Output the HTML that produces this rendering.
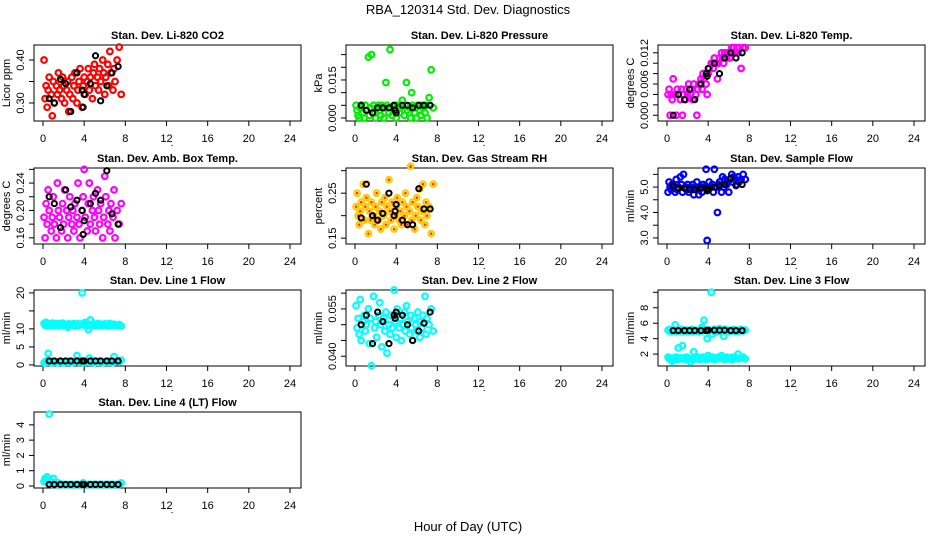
<!DOCTYPE html>
<html><head><meta charset="utf-8"><style>
body{margin:0;background:#fff}
svg{display:block;font-family:"Liberation Sans",Arial,sans-serif}
</style></head><body>
<svg id="c" width="936" height="540" viewBox="0 0 936 540">
<text x="468" y="14" text-anchor="middle" font-size="13">RBA_120314  Std. Dev. Diagnostics</text>
<text x="468" y="531" text-anchor="middle" font-size="13">Hour of Day (UTC)</text>
</svg>
<script>
const xTicks=[0,4,8,12,16,20,24];
const hours=[0.1,0.2,0.3,0.4,0.5,0.6,0.8,0.9,1.0,1.1,1.3,1.4,1.5,1.6,1.8,1.9,2.0,2.1,2.3,2.4,2.5,2.6,2.8,2.9,3.0,3.1,3.3,3.4,3.5,3.6,3.8,3.9,4.0,4.1,4.3,4.4,4.5,4.6,4.8,4.9,5.0,5.1,5.3,5.4,5.5,5.6,5.8,5.9,6.0,6.1,6.3,6.4,6.5,6.6,6.8,6.9,7.0,7.2,7.4,7.6];
const blackHours=[0.6,1.1,1.7,2.2,2.7,3.3,3.8,4.0,4.6,5.1,5.6,6.2,6.7,7.3,3.9];

const co2Vals=[0.40,0.31,0.34,0.29,0.33,0.36,0.32,0.27,0.35,0.30,0.34,0.32,0.37,0.33,0.31,0.36,0.34,0.30,0.33,0.35,0.28,0.32,0.36,0.31,0.34,0.37,0.30,0.33,0.35,0.38,0.29,0.34,0.36,0.32,0.35,0.38,0.33,0.36,0.31,0.37,0.39,0.34,0.36,0.33,0.38,0.35,0.40,0.37,0.32,0.36,0.39,0.34,0.42,0.37,0.33,0.38,0.35,0.40,0.43,0.32];
const co2Black=[0.31,0.30,0.355,0.345,0.28,0.37,0.33,0.32,0.345,0.41,0.305,0.34,0.37,0.385,0.29];
const presVals=[0.005,0.003,0.001,0.000,0.004,0.005,0.002,0.000,0.005,0.003,0.024,0.001,0.004,0.025,0.005,0.002,0.000,0.004,0.005,0.003,0.001,0.005,0.000,0.004,0.014,0.005,0.002,0.027,0.004,0.001,0.005,0.003,0.000,0.005,0.002,0.004,0.005,0.007,0.001,0.005,0.014,0.003,0.004,0.000,0.010,0.005,0.002,0.004,0.000,0.005,0.003,0.001,0.005,0.004,0.002,0.005,0.000,0.008,0.019,0.004];
const presBlack=[0.005,0.003,0.002,0.004,0.004,0.004,0.005,0.002,0.005,0.005,0.004,0.005,0.005,0.005,0.003];
const tempVals=[0.004,0.005,0.000,0.004,0.003,0.007,0.004,0.000,0.005,0.004,0.003,0.005,0.000,0.004,0.003,0.005,0.004,0.006,0.004,0.005,0.003,0.006,0.004,0.000,0.005,0.006,0.007,0.005,0.008,0.007,0.006,0.004,0.008,0.009,0.010,0.010,0.009,0.011,0.010,0.007,0.010,0.011,0.012,0.011,0.010,0.012,0.011,0.012,0.012,0.011,0.013,0.012,0.013,0.012,0.013,0.012,0.013,0.009,0.013,0.013];
const tempBlack=[0.000,0.004,0.003,0.005,0.003,0.006,0.008,0.009,0.010,0.008,0.011,0.012,0.011,0.012,0.0075];
const ambVals=[0.19,0.16,0.21,0.18,0.23,0.20,0.17,0.19,0.22,0.18,0.16,0.24,0.20,0.19,0.17,0.21,0.18,0.23,0.20,0.16,0.19,0.22,0.18,0.20,0.17,0.21,0.19,0.24,0.18,0.16,0.20,0.22,0.26,0.19,0.17,0.21,0.24,0.18,0.20,0.22,0.19,0.17,0.23,0.20,0.18,0.21,0.16,0.19,0.25,0.22,0.18,0.20,0.17,0.21,0.19,0.23,0.16,0.20,0.18,0.21];
const ambBlack=[0.22,0.21,0.175,0.23,0.205,0.215,0.20,0.185,0.21,0.225,0.215,0.258,0.195,0.18,0.165];
const rhVals=[0.22,0.25,0.20,0.18,0.21,0.23,0.27,0.19,0.22,0.24,0.16,0.21,0.19,0.23,0.20,0.18,0.22,0.25,0.19,0.21,0.17,0.23,0.20,0.24,0.18,0.22,0.28,0.21,0.19,0.23,0.17,0.20,0.22,0.24,0.19,0.21,0.18,0.23,0.20,0.25,0.22,0.18,0.21,0.31,0.19,0.23,0.17,0.20,0.24,0.22,0.26,0.19,0.21,0.27,0.18,0.23,0.20,0.22,0.16,0.27];
const rhBlack=[0.195,0.27,0.20,0.19,0.205,0.25,0.20,0.225,0.19,0.18,0.18,0.26,0.215,0.215,0.21];
const flowVals=[4.8,5.2,5.0,4.9,5.1,5.0,4.8,5.3,4.9,5.0,5.4,5.1,4.8,5.5,5.0,4.9,5.1,4.8,5.0,4.9,5.1,4.7,5.0,5.2,4.9,4.7,5.0,4.8,5.1,5.0,5.7,2.9,4.9,5.2,5.0,5.1,4.8,5.7,5.0,4.0,5.1,5.2,4.8,5.4,5.0,5.3,5.1,5.2,4.8,5.3,5.5,5.2,5.4,5.3,5.1,5.4,5.2,5.3,5.5,5.3];
const flowBlack=[5.05,4.95,4.95,4.9,4.9,4.95,4.95,4.9,5.0,5.05,5.1,5.35,5.05,5.1,4.85];
const line1High=[11.5,11.0,11.8,11.2,10.8,11.4,11.0,11.6,11.2,11.0,11.5,11.3,10.9,11.4,11.1,11.6,11.0,11.3,11.2,10.5,11.4,11.0,11.3,11.1,11.5,10.8,11.2,11.4,11.0,11.3,20.0,11.5,11.1,11.8,10.9,9.8,11.3,12.5,11.0,11.4,11.2,11.0,11.5,11.1,10.9,11.3,11.2,11.0,11.4,11.1,11.3,10.8,11.5,11.2,11.0,11.3,11.1,10.9,11.2,10.8];
const line1Low=[0.6,0.9,0.7,1.2,3.2,0.8,0.6,1.0,0.7,0.9,0.8,0.6,1.0,0.7,0.8,0.9,0.6,0.8,1.0,0.7,0.9,0.8,0.6,0.9,0.7,0.8,2.6,0.9,0.7,1.0,0.8,0.6,0.9,0.7,1.0,0.8,1.9,0.7,0.9,0.8,0.6,0.9,0.8,0.7,1.0,0.8,0.6,0.9,0.7,0.8,0.9,0.7,1.0,0.8,0.6,2.3,0.9,1.2,0.8,1.3];
const line1Black=[1.1,1.1,1.1,1.1,1.1,1.1,1.1,1.1,1.1,1.1,1.1,1.1,1.1,1.1,1.1];
const line2Vals=[0.056,0.049,0.052,0.047,0.058,0.045,0.051,0.053,0.048,0.050,0.055,0.044,0.052,0.037,0.059,0.049,0.051,0.046,0.053,0.057,0.050,0.043,0.052,0.048,0.054,0.041,0.050,0.047,0.053,0.049,0.061,0.051,0.046,0.055,0.049,0.052,0.045,0.050,0.054,0.048,0.056,0.051,0.047,0.053,0.049,0.045,0.052,0.050,0.048,0.054,0.046,0.051,0.049,0.053,0.059,0.047,0.052,0.050,0.055,0.048];
const line2Black=[0.050,0.053,0.044,0.054,0.051,0.044,0.053,0.054,0.053,0.050,0.045,0.048,0.0505,0.054,0.052];
const line3High=[5.1,5.0,5.2,4.9,5.0,5.1,5.8,4.9,5.0,5.1,5.0,5.2,4.9,5.0,5.1,5.0,4.9,5.1,5.0,5.2,4.9,5.0,5.1,5.0,5.0,4.9,5.2,5.5,5.0,6.4,5.1,4.0,5.0,5.1,10.0,4.6,5.0,5.2,5.1,4.9,5.0,5.3,5.1,5.0,4.3,5.2,5.0,5.1,4.9,5.0,5.1,5.0,5.2,5.0,4.9,5.1,5.0,5.2,5.0,5.1];
const line3Low=[1.6,1.4,1.5,1.3,1.1,1.5,1.4,1.6,1.3,2.8,1.5,1.4,3.1,1.5,1.3,1.6,1.4,1.5,1.0,1.4,1.3,2.3,1.5,1.4,1.6,1.3,1.5,1.4,1.6,1.5,1.3,1.5,1.8,1.4,1.5,1.6,1.4,1.3,1.5,1.4,1.6,1.5,1.8,1.4,1.5,1.3,1.6,1.4,1.5,1.4,1.3,1.6,1.5,1.4,1.5,2.0,1.4,1.5,1.6,1.4];
const line3Black=[5.05,5.05,5.05,5.05,5.05,5.05,5.05,5.1,5.1,5.1,5.1,5.05,5.05,5.05,5.1];
const line4Vals=[0.3,0.5,0.4,0.6,0.2,4.7,0.3,0.1,0.5,0.2,0.1,0.1,0.2,0.1,0.1,0.1,0.1,0.1,0.1,0.1,0.1,0.1,0.1,0.1,0.1,0.1,0.1,0.1,0.1,0.1,0.1,0.2,0.1,0.1,0.1,0.1,0.1,0.1,0.1,0.1,0.1,0.1,0.1,0.1,0.1,0.1,0.1,0.1,0.1,0.1,0.1,0.1,0.1,0.1,0.1,0.1,0.1,0.1,0.1,0.2];
const line4Black=[0.1,0.1,0.1,0.1,0.1,0.1,0.1,0.1,0.1,0.1,0.1,0.1,0.1,0.1,0.1];

const NS='http://www.w3.org/2000/svg';
const svg=document.getElementById('c');
function mk(tag,attrs,parent){const e=document.createElementNS(NS,tag);for(const k in attrs)e.setAttribute(k,attrs[k]);(parent||svg).appendChild(e);return e;}

const panels=[
 {t:'Stan. Dev. Li-820 CO2',yl:'Licor ppm',col:0,row:0,ymin:0.258,ymax:0.435,ticks:[0.30,0.35,0.40],labels:['0.30','','0.40'],series:[co2Vals],black:co2Black,color:'#ff0000',name:'co2'},
 {t:'Stan. Dev. Li-820 Pressure',yl:'kPa',col:1,row:0,ymin:-0.0012,ymax:0.0288,ticks:[0,0.005,0.010,0.015,0.020,0.025],labels:['0.000','','','0.015','',''],series:[presVals],black:presBlack,color:'#00ee00',name:'pressure'},
 {t:'Stan. Dev. Li-820 Temp.',yl:'degrees C',col:2,row:0,ymin:-0.0011,ymax:0.0135,ticks:[0,0.002,0.004,0.006,0.008,0.010,0.012],labels:['0.000','','','0.006','','','0.012'],series:[tempVals],black:tempBlack,color:'#ff00ff',name:'temp'},
 {t:'Stan. Dev. Amb. Box Temp.',yl:'degrees C',col:0,row:1,ymin:0.151,ymax:0.262,ticks:[0.16,0.18,0.20,0.22,0.24,0.26],labels:['0.16','','0.20','','0.24',''],series:[ambVals],black:ambBlack,color:'#ff00ff',name:'amb-temp'},
 {t:'Stan. Dev. Gas Stream RH',yl:'percent',col:1,row:1,ymin:0.137,ymax:0.306,ticks:[0.15,0.20,0.25,0.30],labels:['0.15','','0.25',''],series:[rhVals],black:rhBlack,color:'#ffcc00',inner:'#ff3300',name:'rh'},
 {t:'Stan. Dev. Sample Flow',yl:'ml/min',col:2,row:1,ymin:2.76,ymax:5.75,ticks:[3.0,3.5,4.0,4.5,5.0,5.5],labels:['3.0','','4.0','','5.0',''],series:[flowVals],black:flowBlack,color:'#0000ff',name:'sample-flow'},
 {t:'Stan. Dev. Line 1 Flow',yl:'ml/min',col:0,row:2,ymin:-0.3,ymax:20.8,ticks:[0,5,10,15,20],labels:['0','5','10','','20'],series:[line1High,line1Low],black:line1Black,color:'#00ffff',name:'line1'},
 {t:'Stan. Dev. Line 2 Flow',yl:'ml/min',col:1,row:2,ymin:0.0369,ymax:0.061,ticks:[0.040,0.045,0.050,0.055,0.060],labels:['0.040','','','0.055',''],series:[line2Vals],black:line2Black,color:'#00ffff',name:'line2'},
 {t:'Stan. Dev. Line 3 Flow',yl:'ml/min',col:2,row:2,ymin:0.46,ymax:10.3,ticks:[2,4,6,8,10],labels:['2','4','6','8',''],series:[line3High,line3Low],black:line3Black,color:'#00ffff',name:'line3'},
 {t:'Stan. Dev. Line 4 (LT) Flow',yl:'ml/min',col:0,row:3,ymin:-0.13,ymax:4.84,ticks:[0,1,2,3,4],labels:['0','1','2','3','4'],series:[line4Vals],black:line4Black,color:'#00ffff',name:'line4'}
];
const colLeft=[34,346,658], rowTop=[45,168,290,412], W=267, H=76;

panels.forEach(p=>{
 const L=colLeft[p.col], T=rowTop[p.row], B=T+H;
 const g=mk('g',{});
 
 
 const xs=h=>L+9+h*(247/24);
 const ys=v=>B-(v-p.ymin)/(p.ymax-p.ymin)*H;
 const tt=mk('text',{x:L+W/2,y:T-6,'text-anchor':'middle','font-size':'11','font-weight':'bold'},g);
 tt.textContent=p.t;
 
 
 const box=mk('rect',{x:L,y:T,width:W,height:H,fill:'none',stroke:'#000','stroke-width':1},g);
 
 
 mk('line',{x1:xs(0),x2:xs(24),y1:B,y2:B,stroke:'#000'},g);
 xTicks.forEach(v=>{
  mk('line',{x1:xs(v),x2:xs(v),y1:B,y2:B+5,stroke:'#000'},g);
  const tl=mk('text',{x:xs(v),y:B+21,'text-anchor':'middle','font-size':'11'},g);
  tl.textContent=v;
  
  
 });
 mk('rect',{x:xs(12.5),y:B+24,width:1,height:1,fill:'#000'},g);
 const yv=p.ticks.filter(v=>v>=p.ymin&&v<=p.ymax);
 mk('line',{x1:L,x2:L,y1:ys(yv[0]),y2:ys(yv[yv.length-1]),stroke:'#000'},g);
 p.ticks.forEach((v,i)=>{
  if(v<p.ymin||v>p.ymax)return;
  const y=ys(v);
  mk('line',{x1:L-5,x2:L,y1:y,y2:y,stroke:'#000'},g);
  if(p.labels[i]){
   const tl=mk('text',{x:L-10,y:y,'text-anchor':'middle','font-size':'11',transform:`rotate(-90 ${L-10} ${y})`},g);
   tl.textContent=p.labels[i];
   
   
  }
 });
 const yl=mk('text',{x:L-24,y:T+H/2,'text-anchor':'middle','font-size':'11',transform:`rotate(-90 ${L-24} ${T+H/2})`},g);
 yl.textContent=p.yl;
 
 
 p.series.forEach(arr=>{
  arr.forEach((v,i)=>{
   const c=mk('circle',{cx:xs(hours[i]),cy:ys(v),r:2.8,fill:'none',stroke:p.color,'stroke-width':2.2},g);
   
   
   if(p.inner){mk('circle',{cx:xs(hours[i]),cy:ys(v),r:1.3,fill:p.inner},g);}
  });
 });
 p.black.forEach((v,i)=>{
  const c=mk('circle',{cx:xs(blackHours[i]),cy:ys(v),r:2.6,fill:'none',stroke:'#000','stroke-width':2},g);
  
  
 });
});
</script>
</body></html>
